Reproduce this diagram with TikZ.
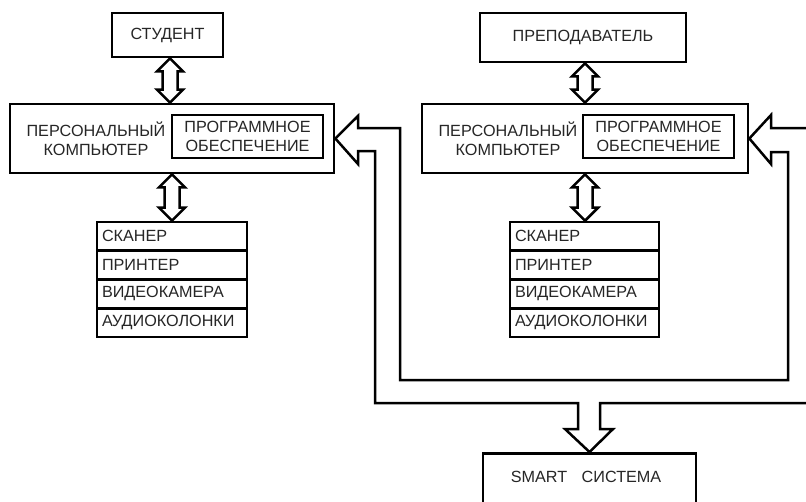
\documentclass[tikz,border=0pt]{standalone}
\usepackage{fontspec}
\setmainfont{Liberation Sans}
\usetikzlibrary{calc}
\tikzset{
  box/.style={draw=black, line width=2.7pt, rectangle, inner sep=0pt, text=black!85, font=\fontsize{16.2}{19}\selectfont, align=center},
  devrow/.style={draw=black, line width=2.6pt, rectangle, minimum height=28.75pt, text width=140pt, inner xsep=5pt, inner ysep=0pt, align=left, text=black!85, font=\fontsize{16.2}{19}\selectfont},
  hollow/.style={draw=black, line width=2.5pt, line join=miter, fill=white},
  band/.style={draw=black, line width=2.5pt, line join=miter},
  plain/.style={text=black!85, font=\fontsize{16.2}{19}\selectfont, align=center, inner sep=0pt}
}
\newcommand{\hollowdbl}[2]{%
  \draw[hollow] let \p1=(#1), \p2=(#2) in
    (\x1,\y1) -- ({\x1+13pt},{\y1-13pt}) -- ({\x1+7.5pt},{\y1-13pt}) --
    ({\x1+7.5pt},{\y2+13pt}) -- ({\x1+13pt},{\y2+13pt}) -- (\x1,\y2) --
    ({\x1-13pt},{\y2+13pt}) -- ({\x1-7.5pt},{\y2+13pt}) --
    ({\x1-7.5pt},{\y1-13pt}) -- ({\x1-13pt},{\y1-13pt}) -- cycle;}
\begin{document}
\begin{tikzpicture}[x=1pt, y=-1pt]
\clip (0,0) rectangle (806,501);
\fill[white] (0,0) rectangle (806,501);

% left column
\node[box, minimum width=111pt, minimum height=44pt] (student) at (167.5,35) {СТУДЕНТ};
\node[box, minimum width=324pt, minimum height=69pt] (pc1) at (172,138.5) {};
\node[plain] (pc1t) at (96,138.5) {ПЕРСОНАЛЬНЫЙ\\КОМПЬЮТЕР};
\node[box, minimum width=151pt, minimum height=43pt] (sw1) at (247.5,136.5) {ПРОГРАММНОЕ\\ОБЕСПЕЧЕНИЕ};
\node[devrow] (d11) at (172,236.4) {СКАНЕР};
\node[devrow] (d12) at (172,265.1) {ПРИНТЕР};
\node[devrow] (d13) at (172,293.9) {ВИДЕОКАМЕРА};
\node[devrow] (d14) at (172,322.6) {АУДИОКОЛОНКИ};

% right column
\node[box, minimum width=206pt, minimum height=49pt] (teacher) at (583,37.5) {ПРЕПОДАВАТЕЛЬ};
\node[box, minimum width=326pt, minimum height=69pt] (pc2) at (585,138.5) {};
\node[plain] (pc2t) at (508,138.5) {ПЕРСОНАЛЬНЫЙ\\КОМПЬЮТЕР};
\node[box, minimum width=151pt, minimum height=43pt] (sw2) at (658.5,136.5) {ПРОГРАММНОЕ\\ОБЕСПЕЧЕНИЕ};
\node[devrow, text width=139pt] (d21) at (584.5,236.4) {СКАНЕР};
\node[devrow, text width=139pt] (d22) at (584.5,265.1) {ПРИНТЕР};
\node[devrow, text width=139pt] (d23) at (584.5,293.9) {ВИДЕОКАМЕРА};
\node[devrow, text width=139pt] (d24) at (584.5,322.6) {АУДИОКОЛОНКИ};

% smart system
\node[box, minimum width=213pt, minimum height=70pt, anchor=north] (smart) at (589.5,452) {};
\node[plain] (smartt) at (586,477) {SMART\hspace{0.9em}СИСТЕМА};

% double arrows
\hollowdbl{$(student.south)+(2.5,0)$}{pc1.north}
\hollowdbl{pc1.south}{d11.north}
\hollowdbl{teacher.south -| pc2.north}{pc2.north}
\hollowdbl{pc2.south}{d21.north}

% band with arrows
\draw[band] (820,128) -- (771,128) -- (771,115) -- (pc2.east) -- (771,164) -- (771,152) -- (788,152)
  -- (788,380) -- (400,380) -- (400,128) -- (358,128) -- (358,116) -- (pc1.east)
  -- (358,164) -- (358,151) -- (375,151) -- (375,403) -- (578,403) -- (578,429) -- (565,429)
  -- (smart.north) -- (613,429) -- (600,429) -- (600,403) -- (820,403);
\end{tikzpicture}
\end{document}
